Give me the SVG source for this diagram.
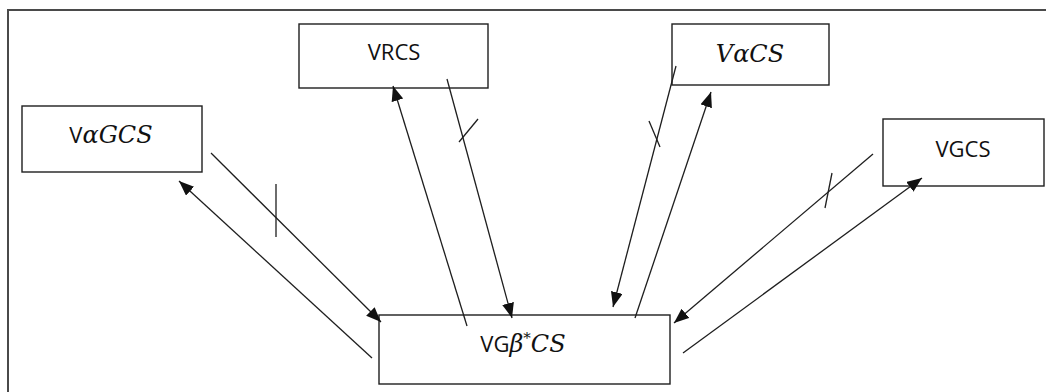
<svg xmlns="http://www.w3.org/2000/svg" width="1046" height="392" viewBox="0 0 1046 392">
  <style>
    .frame { fill: none; stroke: #4a4a4a; stroke-width: 2; }
    .box { fill: #fff; stroke: #1e1e1e; stroke-width: 1.4; }
    .edge { fill: none; stroke: #1e1e1e; stroke-width: 1.3; }
    .tick { fill: none; stroke: #1e1e1e; stroke-width: 1.3; }
    .label { font-family: "Open Sans", "Liberation Sans", Arial, sans-serif; font-size: 22px; fill: #111; text-anchor: middle; }
    .math { font-family: "DejaVu Serif", "Liberation Serif", serif; font-style: italic; font-size: 24px; }
    .sup { font-size: 15px; }
  </style>
  <defs>
    <marker id="arrow" markerUnits="userSpaceOnUse" markerWidth="18" markerHeight="14" refX="15" refY="6" orient="auto">
      <path d="M0,0 L15,6 L0,12 z" fill="#111"/>
    </marker>
  </defs>

  <rect width="1046" height="392" fill="#fff"/>
  <!-- outer frame, open at right and bottom -->
  <path class="frame" d="M1050,10 H8 V396"/>

  <g id="node-vagcs">
    <rect class="box" x="22" y="106" width="180" height="66"/>
    <text class="label" x="111" y="143">V<tspan class="math">αGCS</tspan></text>
  </g>

  <g id="node-vrcs">
    <rect class="box" x="299" y="24" width="189" height="64"/>
    <text class="label" x="394" y="60">VRCS</text>
  </g>

  <g id="node-vacs">
    <rect class="box" x="672" y="24" width="157" height="61"/>
    <text class="label math" x="750" y="62">VαCS</text>
  </g>

  <g id="node-vgcs">
    <rect class="box" x="883" y="119" width="161" height="67"/>
    <text class="label" x="963" y="157">VGCS</text>
  </g>

  <g id="node-vgbcs">
    <rect class="box" x="379" y="315" width="291" height="69"/>
    <text class="label" x="523" y="352">VG<tspan class="math">β<tspan class="sup" dy="-9">*</tspan><tspan dy="9">CS</tspan></tspan></text>
  </g>

  <g id="connectors">
    <!-- VαGCS pair -->
    <line class="edge" x1="211" y1="153" x2="381" y2="322" marker-end="url(#arrow)"/>
    <line class="tick" x1="276" y1="184" x2="276" y2="237"/>
    <line class="edge" x1="372" y1="358" x2="179" y2="181" marker-end="url(#arrow)"/>

    <!-- VRCS pair -->
    <line class="edge" x1="467" y1="326" x2="393" y2="86" marker-end="url(#arrow)"/>
    <line class="edge" x1="447" y1="79" x2="512" y2="318" marker-end="url(#arrow)"/>
    <line class="tick" x1="478" y1="119" x2="459" y2="142"/>

    <!-- VαCS pair -->
    <line class="edge" x1="676" y1="66" x2="613" y2="307" marker-end="url(#arrow)"/>
    <line class="tick" x1="649" y1="121" x2="660" y2="147"/>
    <line class="edge" x1="635" y1="318" x2="711" y2="92" marker-end="url(#arrow)"/>

    <!-- VGCS pair -->
    <line class="edge" x1="873" y1="154" x2="674" y2="323" marker-end="url(#arrow)"/>
    <line class="tick" x1="832" y1="173" x2="825" y2="208"/>
    <line class="edge" x1="683" y1="353" x2="922" y2="178" marker-end="url(#arrow)"/>
  </g>
</svg>
